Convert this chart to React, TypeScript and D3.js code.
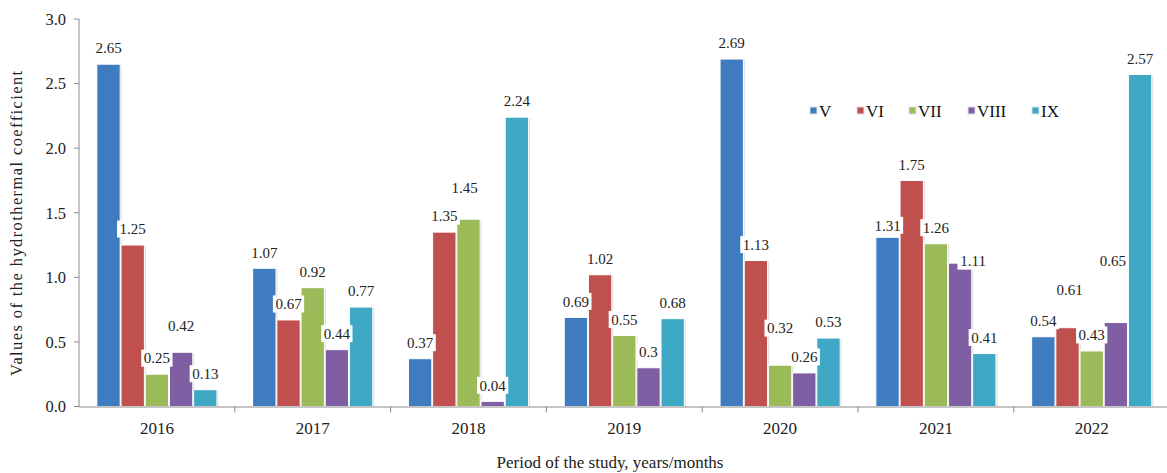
import React from 'react';
import * as d3 from 'd3';

const years = ['2016', '2017', '2018', '2019', '2020', '2021', '2022'];
const months = ['V', 'VI', 'VII', 'VIII', 'IX'];

const vMay = [2.65, 1.07, 0.37, 0.69, 2.69, 1.31, 0.54];
const vJun = [1.25, 0.67, 1.35, 1.02, 1.13, 1.75, 0.61];
const vJul = [0.25, 0.92, 1.45, 0.55, 0.32, 1.26, 0.43];
const vAug = [0.42, 0.44, 0.04, 0.3, 0.26, 1.11, 0.65];
const vSep = [0.13, 0.77, 2.24, 0.68, 0.53, 0.41, 2.57];
const seriesValues = [vMay, vJun, vJul, vAug, vSep];

const yTicks = [0, 0.5, 1.0, 1.5, 2.0, 2.5, 3.0];

const colors = ['#3f7cbf', '#c0504d', '#9bbb59', '#7f5ea3', '#3fa9c5'];

// hand-moved data labels in the original (dx, dy in px)
const labelShift: Record<string, [number, number]> = {
  '2016-VIII': [0, -11],
  '2018-VII': [-4, -15],
  '2020-VII': [0, -21],
  '2021-V': [0, 4],
  '2021-VIII': [13, 14],
  '2022-VI': [2, -22],
  '2022-VIII': [-3, -46],
};

const W = 1167;
const H = 473;
const FONT = '"Liberation Serif", "Times New Roman", serif';

const App: React.FC = () => {
  const left = 79;
  const bandW = 155.8;
  const x = d3.scaleBand<string>().domain(years).range([left, left + bandW * years.length]).paddingInner(0).paddingOuter(0);
  const x1 = d3.scaleBand<string>().domain(months).range([17, bandW - 17]).padding(0.035);
  const y = d3.scaleLinear().domain([0, 3]).range([406.5, 19]);

  const labelW = (s: string) => s.replace('.', '').length * 7.5 + 3.75 + 5;

  return (
    <svg width={W} height={H} style={{ display: 'block', position: 'absolute', left: 0, top: 0, background: '#fff' }} fontFamily={FONT}>
      {/* y axis */}
      <line x1={left} x2={left} y1={y(3)} y2={y(0)} stroke="#8c8c8c" strokeWidth={1} />
      {yTicks.map(t => (
        <g key={t}>
          <line x1={left - 5} x2={left} y1={y(t)} y2={y(t)} stroke="#8c8c8c" />
          <text x={66} y={y(t)} dy="0.35em" textAnchor="end" fontSize={16.5} fill="#222">{t.toFixed(1)}</text>
        </g>
      ))}
      <text transform={`translate(22,${(y(0) + y(3)) / 2 + 10}) rotate(-90)`} textAnchor="middle" fontSize={16.5} letterSpacing={1.4} fill="#222">
        Values of  the hydrothermal coefficient
      </text>

      {/* bars */}
      {years.map((yr, i) => (
        <g key={yr} transform={`translate(${x(yr)},0)`}>
          {months.map((m, j) => {
            const v = seriesValues[j][i];
            const bx = x1(m)!;
            return (
              <g key={m}>
                <rect x={bx + 1.5} y={y(v) + 1} width={x1.bandwidth()} height={y(0) - y(v) - 1} fill="#d4d4d4" opacity={0.8} />
                <rect x={bx} y={y(v)} width={x1.bandwidth()} height={y(0) - y(v)} fill={colors[j]} stroke="#fff" strokeWidth={1} />
              </g>
            );
          })}
        </g>
      ))}

      {/* x axis */}
      <line x1={left} x2={left + bandW * years.length} y1={y(0) + 0.5} y2={y(0) + 0.5} stroke="#8c8c8c" />
      {years.map((yr, i) => (
        <g key={yr}>
          {i > 0 && <line x1={x(yr)} x2={x(yr)} y1={y(0)} y2={y(0) + 6} stroke="#8c8c8c" />}
          <text x={x(yr)! + bandW / 2} y={428} dy="0.35em" textAnchor="middle" fontSize={17} fill="#222">{yr}</text>
        </g>
      ))}
      <text x={610} y={468} textAnchor="middle" fontSize={17} fill="#222">Period of  the study, years/months</text>

      {/* data labels */}
      {years.map((yr, i) =>
        months.map((m, j) => {
          const v = seriesValues[j][i];
          const s = String(v);
          const [dx, dy] = labelShift[`${yr}-${m}`] || [0, 0];
          const cx = x(yr)! + x1(m)! + x1.bandwidth() / 2 + dx;
          const cy = y(v) - 16 + dy;
          const w = labelW(s);
          return (
            <g key={`${yr}-${m}`}>
              <rect x={cx - w / 2} y={cy - 8.5} width={w} height={17} fill="#fff" />
              <text x={cx} y={cy} dy="0.35em" textAnchor="middle" fontSize={15} fill="#222">{s}</text>
            </g>
          );
        })
      )}

      {/* legend */}
      {months.map((m, j) => {
        const lx = [810, 857, 909, 968, 1032][j];
        return (
          <g key={m}>
            <rect x={lx} y={107} width={7} height={7} fill={colors[j]} stroke="#d8e2ee" strokeWidth={1} />
            <text x={lx + 9} y={116.5} fontSize={17} fill="#111">{m}</text>
          </g>
        );
      })}
    </svg>
  );
};

export default App;
